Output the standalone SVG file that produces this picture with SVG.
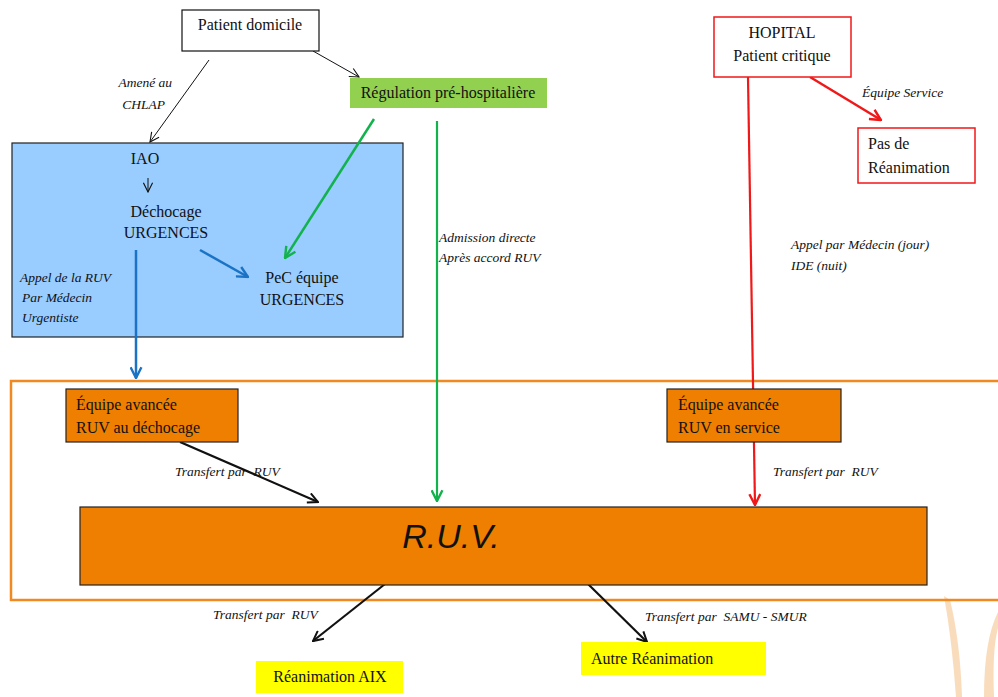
<svg xmlns="http://www.w3.org/2000/svg" width="998" height="697" viewBox="0 0 998 697">
<style>
.t{font-family:"Liberation Serif","Times New Roman",serif;font-size:16px;fill:#111}
.i{font-family:"Liberation Serif","Times New Roman",serif;font-size:13.5px;font-style:italic;fill:#111;white-space:pre}
.c{text-anchor:middle}
</style>
<defs>
<marker id="mk" viewBox="0 0 12 12" refX="11" refY="6" markerWidth="12" markerHeight="12" markerUnits="userSpaceOnUse" orient="auto"><path d="M1,1 L11,6 L1,11" fill="none" stroke="#111" stroke-width="2"/></marker>
<marker id="mk1" viewBox="0 0 12 12" refX="11" refY="6" markerWidth="11" markerHeight="11" markerUnits="userSpaceOnUse" orient="auto"><path d="M1,1 L11,6 L1,11" fill="none" stroke="#111" stroke-width="1.2"/></marker>
<marker id="mb" viewBox="0 0 12 12" refX="11" refY="6" markerWidth="13" markerHeight="13" markerUnits="userSpaceOnUse" orient="auto"><path d="M1,1 L11,6 L1,11" fill="none" stroke="#1a73c4" stroke-width="2.2"/></marker>
<marker id="mg" viewBox="0 0 12 12" refX="11" refY="6" markerWidth="13" markerHeight="13" markerUnits="userSpaceOnUse" orient="auto"><path d="M1,1 L11,6 L1,11" fill="none" stroke="#12b24c" stroke-width="2.2"/></marker>
<marker id="mr" viewBox="0 0 12 12" refX="11" refY="6" markerWidth="13" markerHeight="13" markerUnits="userSpaceOnUse" orient="auto"><path d="M1,1 L11,6 L1,11" fill="none" stroke="#f01818" stroke-width="2.2"/></marker>
</defs>
<rect width="998" height="697" fill="#fff"/>
<!-- watermark -->
<g opacity="0.45" fill="#f2b26a">
<path d="M944,596 Q952,640 956,697 L962,697 Q960,640 950,600 Z"/>
<path d="M998,612 Q984,640 984,697 L994,697 Q992,650 998,628 Z"/>
</g>
<!-- containers -->
<g id="blue-zone"><rect x="12" y="143" width="391" height="194" fill="#99ccff" stroke="#222" stroke-width="1.2"/></g>
<g id="orange-zone"><rect x="11" y="381" width="1000" height="219" fill="none" stroke="#f08a20" stroke-width="2.5"/></g>
<!-- connectors -->
<g id="connectors">
<line x1="209" y1="60" x2="150" y2="142" stroke="#111" stroke-width="1" marker-end="url(#mk1)"/>
<line x1="313" y1="51" x2="359" y2="77" stroke="#111" stroke-width="1" marker-end="url(#mk1)"/>
<line x1="148" y1="178" x2="148" y2="192" stroke="#111" stroke-width="1" marker-end="url(#mk1)"/>
<line x1="200" y1="250" x2="248" y2="277" stroke="#1a73c4" stroke-width="2.5" marker-end="url(#mb)"/>
<line x1="374" y1="119" x2="285" y2="258" stroke="#12b24c" stroke-width="2.5" marker-end="url(#mg)"/>
<line x1="136" y1="250" x2="136" y2="378" stroke="#1a73c4" stroke-width="2.5" marker-end="url(#mb)"/>
<line x1="437" y1="121" x2="437" y2="501" stroke="#12b24c" stroke-width="2.2" marker-end="url(#mg)"/>
<line x1="748" y1="77" x2="755" y2="505" stroke="#f01818" stroke-width="2.2" marker-end="url(#mr)"/>
<line x1="810" y1="77" x2="881" y2="120" stroke="#f01818" stroke-width="2.5" marker-end="url(#mr)"/>
<line x1="180" y1="442" x2="318" y2="502" stroke="#111" stroke-width="2.2" marker-end="url(#mk)"/>
<line x1="385" y1="584" x2="313" y2="641" stroke="#111" stroke-width="2.2" marker-end="url(#mk)"/>
<line x1="588" y1="584" x2="647" y2="642" stroke="#111" stroke-width="2.2" marker-end="url(#mk)"/>
</g>
<!-- nodes -->
<g id="patient-domicile"><rect x="182" y="10" width="137" height="41" fill="#fff" stroke="#111" stroke-width="1.2"/><text class="t c" x="250" y="30">Patient domicile</text></g>
<g id="regulation"><rect x="350" y="78" width="197" height="30" fill="#92d050"/><text class="t c" x="448" y="98">Régulation pré-hospitalière</text></g>
<g id="iao"><text class="t c" x="145" y="164">IAO</text></g>
<g id="dechocage"><text class="t c" x="166" y="217">Déchocage</text><text class="t c" x="166" y="238">URGENCES</text></g>
<g id="pec"><text class="t c" x="302" y="283">PeC équipe</text><text class="t c" x="302" y="305">URGENCES</text></g>
<g id="hopital"><rect x="714" y="17" width="137" height="60" fill="#fff" stroke="#f01818" stroke-width="1.5"/><text class="t c" x="782" y="38">HOPITAL</text><text class="t c" x="782" y="61">Patient critique</text></g>
<g id="pas-de-reanimation"><rect x="858" y="128" width="117" height="55" fill="#fff" stroke="#f01818" stroke-width="1.5"/><text class="t" x="868" y="149">Pas de</text><text class="t" x="868" y="173">Réanimation</text></g>
<g id="equipe-dechocage"><rect x="66" y="389" width="172" height="53" fill="#ef7f00" stroke="#222" stroke-width="1.2"/><text class="t" x="76" y="410">Équipe avancée</text><text class="t" x="76" y="433">RUV au déchocage</text></g>
<g id="equipe-service"><rect x="667" y="389" width="174" height="53" fill="#ef7f00" stroke="#222" stroke-width="1.2"/><text class="t" x="678" y="410">Équipe avancée</text><text class="t" x="678" y="433">RUV en service</text></g>
<g id="ruv"><rect x="80" y="507" width="847" height="78" fill="#ef7f00" stroke="#222" stroke-width="1.2"/><text x="451" y="548" text-anchor="middle" font-family="Liberation Sans, Arial, sans-serif" font-style="italic" font-size="34" fill="#111">R.U.V.</text></g>
<g id="reanimation-aix"><rect x="256" y="661" width="147" height="32" fill="#ffff00"/><text class="t c" x="330" y="682">Réanimation AIX</text></g>
<g id="autre-reanimation"><rect x="581" y="642" width="185" height="33" fill="#ffff00"/><text class="t" x="591" y="664">Autre Réanimation</text></g>
<!-- labels -->
<g id="labels">
<text class="i" x="172" y="87" text-anchor="end">Amené au</text>
<text class="i" x="165" y="109" text-anchor="end">CHLAP</text>
<text class="i" x="20" y="282">Appel de la RUV</text>
<text class="i" x="22" y="302">Par Médecin</text>
<text class="i" x="22" y="322">Urgentiste</text>
<text class="i" x="439" y="242">Admission directe</text>
<text class="i" x="439" y="262">Après accord RUV</text>
<text class="i" x="862" y="97" font-size="11.5">Équipe Service</text>
<text class="i" x="791" y="249">Appel par Médecin (jour)</text>
<text class="i" x="791" y="270">IDE (nuit)</text>
<text class="i" x="175" y="476">Transfert par  RUV</text>
<text class="i" x="773" y="476">Transfert par  RUV</text>
<text class="i" x="213" y="619">Transfert par  RUV</text>
<text class="i" x="645" y="621">Transfert par  SAMU - SMUR</text>
</g>
</svg>
